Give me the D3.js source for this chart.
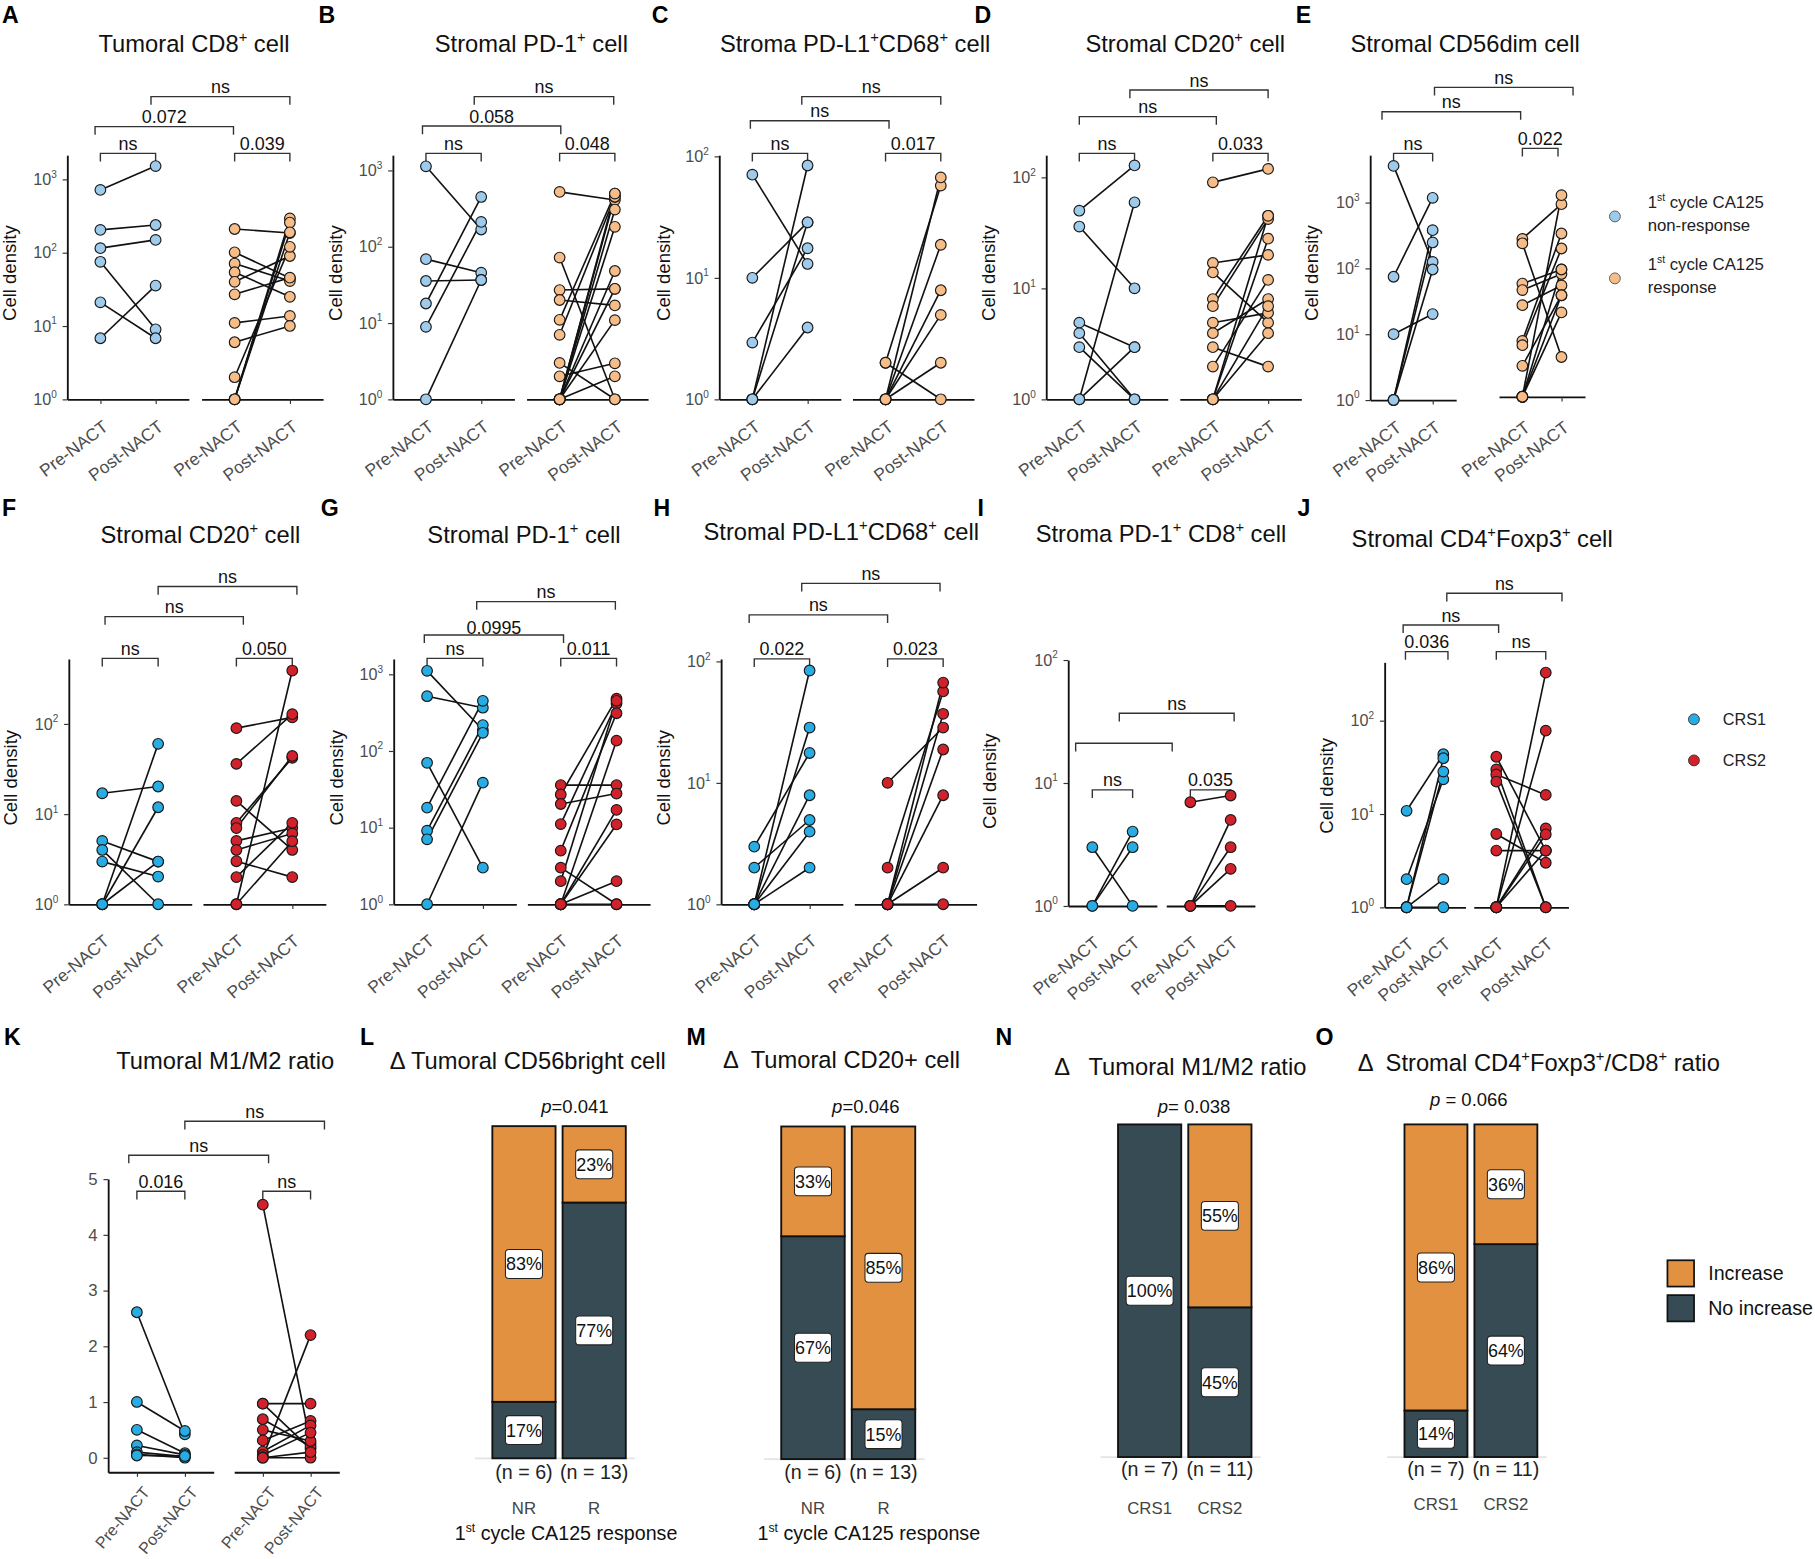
<!DOCTYPE html>
<html>
<head>
<meta charset="utf-8">
<title>Immune cells before and after NACT</title>
<script src="https://cdn.jsdelivr.net/npm/d3@7"></script>
<style>
  body { margin: 0; background: #fff; }
  svg { display: block; }
  text { font-family: "Liberation Sans", Arial, sans-serif; white-space: pre; }
</style>
</head>
<body>
<svg id="fig"></svg>
<script>
// ---------------- data ----------------
const timepoints = ["Pre-NACT", "Post-NACT"];
const ca125Groups = ["non-response", "response"];
const crsGroups = ["CRS1", "CRS2"];
const responseShort = ["NR", "R"];

// paired cell densities [pre, post] per patient
const tumCd8NR = [[716, 1514], [204, 238], [115, 149], [75, 9], [21, 6.8], [6.8, 35.5]];
const tumCd8R = [[210, 185], [101, 45], [71, 41], [54, 25], [40, 90], [27, 45.6], [11, 13.7], [6, 10], [2, 120], [1, 293], [1, 257], [1, 189]];
const strPd1NR = [[1130, 168], [68.6, 45.6], [35.5, 36.6], [18, 448], [8.9, 211], [1, 36.6]];
const strPd1R = [[522, 408], [72, 1], [27, 28], [20, 17], [11, 496], [7, 451], [3, 1], [2, 2.96], [1, 306], [1, 182], [1, 48], [1, 10.9], [1, 2], [1, 451], [1, 496], [1, 28]];
const strPdl1NR = [[70.6, 13], [10, 28.6], [2.93, 17.5], [1, 84], [1, 28.6], [1, 3.9]];
const strPdl1R = [[2, 57.4], [2, 1], [1, 67], [1, 18.7], [1, 7.9], [1, 4.95], [1, 2]];
const strCd20NR = [[50, 128], [36, 10], [4.9, 2.95], [3.94, 1], [2.95, 1], [1, 59.5], [1, 2.95]];
const strCd20R = [[90, 119], [16.9, 20], [13.9, 4.9], [8, 45], [6.9, 42], [4.9, 6], [3.94, 8], [2.95, 1.97], [1.97, 11.9], [1, 45], [1, 28], [1, 6.9], [1, 3.94]];
const strCd56NR = [[3597, 125], [74.5, 1177], [10, 20.2], [1, 380], [1, 247], [1, 96]];
const strCd56R = [[280, 943], [240, 4.5], [58.6, 96], [46.7, 82], [27.6, 55], [7.9, 338], [6.8, 200], [3.3, 39], [1.12, 1292], [1.12, 21.4], [1.12, 39], [1.12, 96]];

const crsCd20C1 = [[17, 20.2], [5.04, 2.97], [4, 1], [2.97, 2.03], [1, 60], [1, 11.9], [1, 2.97]];
const crsCd20C2 = [[89.6, 118], [36, 128], [14, 4], [8, 42], [7, 44], [5.04, 7], [4, 6.1], [3, 2], [2, 8], [1, 390], [1, 5]];
const crsPd1C1 = [[1107, 187], [517, 366], [70, 3], [18.2, 450], [9.1, 217], [7.03, 172], [1, 38.5]];
const crsPd1C2 = [[35.8, 35.8], [27, 480], [20.3, 27.8], [11.1, 415], [5, 310], [3, 1], [2, 450], [1, 136], [1, 17], [1, 11], [1, 2], [1, 1]];
const crsPdl1C1 = [[2.98, 17.6], [2, 4.94], [1, 84], [1, 28.5], [1, 7.9], [1, 3.96], [1, 2]];
const crsPdl1C2 = [[10, 28.5], [2, 56.5], [1, 66.8], [1, 37], [1, 18.8], [1, 7.9], [1, 2], [1, 1]];
const crsPd1Cd8C1 = [[3, 1], [1, 4.02], [1, 3]];
const crsPd1Cd8C2 = [[6.96, 7.9], [1, 5], [1, 3], [1, 2], [1, 1]];
const crsFoxp3C1 = [[10.8, 43.6], [2, 23.5], [1, 39.5], [1, 28.4], [1, 2], [1, 1]];
const crsFoxp3C2 = [[41, 4.05], [30, 1], [26.5, 16], [22.2, 1], [6.1, 3], [4.05, 4.05], [1, 327], [1, 78], [1, 7], [1, 6.05], [1, 4.05]];
const m1m2C1 = [[2.61, 0.42], [1.0, 0.48], [0.5, 0.08], [0.22, 0.05], [0.1, 0.02], [0.06, 0.0], [0.04, 0.03]];
const m1m2C2 = [[4.54, 0.25], [0.97, 0.97], [0.97, 0.16], [0.69, 0.2], [0.5, 0.3], [0.31, 0.66], [0.11, 0.58], [0.05, 0.45], [0.01, 2.2], [0.0, 0.0], [0.0, 0.1]];

// change categories (% of patients)
const cd56brIncrease = [83, 23], cd56brNoIncrease = [17, 77], cd56brN = [6, 13];
const cd20IncreaseL = [33, 85], cd20NoIncrease = [67, 15], cd20N = [6, 13];
const m1m2Increase = [0, 55], m1m2NoIncrease = [100, 45], m1m2N = [7, 11];
const foxp3Increase = [86, 36], foxp3NoIncrease = [14, 64], foxp3N = [7, 11];
const barPValues = ["0.041", "0.046", "0.038", "0.066"];

const ca125Colors = ["#9ecbeb", "#f7bd88"];
const crsColors = ["#27ace3", "#d1222b"];
const changeColors = { increase: "#e1913f", noIncrease: "#364b54" };

// ---------------- layout ----------------
const svg = d3.select("#fig")
  .attr("width", 1815).attr("height", 1559)
  .attr("viewBox", "0 0 1568 1347");

// x label placement [dx, dy, angle, font size]
const row1Lab = [1, 17, 37, 15], row2Lab = [0, 25, 40, 15], kLab = [4, 11, 50, 14];

const pairPanels = [
  { id: "A", title: "Tumoral CD8^+ cell", tx: 167.5, ty: 44.6, lx: 1.7, ly: 20.2, ax: 58, yBase: 345, yTop: 134, topExp: 3.33,
    facets: [{ x0: 58, x1: 163 }, { x0: 174, x1: 279 }], groups: [tumCd8NR, tumCd8R], colors: ca125Colors, cdx: 8.5, cdy: 236, lab: row1Lab,
    brackets: [["nr", 132.5, "ns"], ["r", 132.5, "0.039"], ["pre", 109.4, "0.072", -4.6, -1], ["post", 83.5, "ns", -4, 0]] },
  { id: "B", title: "Stromal PD-1^+ cell", tx: 459, ty: 44.6, lx: 275, ly: 20.2, ax: 339.3, yBase: 345, yTop: 134, topExp: 3.2,
    facets: [{ x0: 339.3, x1: 444.3 }, { x0: 454.8, x1: 559.8 }], groups: [strPd1NR, strPd1R], colors: ca125Colors, cdx: 290, cdy: 236, lab: row1Lab,
    brackets: [["nr", 132.5, "ns"], ["r", 132.5, "0.048"], ["pre", 108.9, "0.058", -3, 1], ["post", 83.5, "ns", -6, -1]] },
  { id: "C", title: "Stroma PD-L1^+CD68^+ cell", tx: 738.7, ty: 44.6, lx: 563, ly: 20.2, ax: 621.3, yBase: 345, yTop: 134, topExp: 2.01,
    facets: [{ x0: 621.3, x1: 726.3 }, { x0: 736.4, x1: 841.4 }], groups: [strPdl1NR, strPdl1R], colors: ca125Colors, cdx: 573, cdy: 236, lab: row1Lab,
    brackets: [["nr", 132.5, "ns"], ["r", 132.5, "0.017"], ["pre", 104.3, "ns", -1.7, 3], ["post", 83.5, "ns", -5, 0]] },
  { id: "D", title: "Stromal CD20^+ cell", tx: 1024, ty: 44.6, lx: 842, ly: 20.2, ax: 903.8, yBase: 345, yTop: 134, topExp: 2.2,
    facets: [{ x0: 903.8, x1: 1008.8 }, { x0: 1019.2, x1: 1124.2 }], groups: [strCd20NR, strCd20R], colors: ca125Colors, cdx: 854, cdy: 236, lab: row1Lab,
    brackets: [["nr", 132.5, "ns"], ["r", 132.5, "0.033"], ["pre", 100.8, "ns", 0, 3], ["post", 77.8, "ns", -4, 0]] },
  { id: "E", title: "Stromal CD56dim cell", tx: 1265.8, ty: 44.6, lx: 1119.5, ly: 20.2, ax: 1183.7, yBase: 345.6, yTop: 134, topExp: 3.72,
    facets: [{ x0: 1183.7, x1: 1258 }, { x0: 1295, x1: 1369.3, base: 1.12 }], groups: [strCd56NR, strCd56R], colors: ca125Colors, cdx: 1133, cdy: 236, lab: row1Lab,
    brackets: [["nr", 132.5, "ns"], ["r", 128.2, "0.022", 0, -3], ["pre", 96.5, "ns", -10, -1.5], ["post", 75.5, "ns", 1.6, 10]] },

  { id: "F", title: "Stromal CD20^+ cell", tx: 173, ty: 469.4, lx: 1.7, ly: 446, ax: 59.3, yBase: 781.3, yTop: 569.3, topExp: 2.72,
    facets: [{ x0: 59.3, x1: 165.5 }, { x0: 175.2, x1: 281.4 }], groups: [crsCd20C1, crsCd20C2], colors: crsColors, cdx: 9.4, cdy: 672, lab: row2Lab,
    brackets: [["nr", 568.8, "ns"], ["r", 568.8, "0.050"], ["pre", 532.8, "ns", 2.4, 6], ["post", 506.8, "ns", 0, 4]] },
  { id: "G", title: "Stromal PD-1^+ cell", tx: 452.6, ty: 469, lx: 277, ly: 446, ax: 340, yBase: 781.3, yTop: 569.3, topExp: 3.2,
    facets: [{ x0: 340, x1: 446 }, { x0: 455.5, x1: 561.5 }], groups: [crsPd1C1, crsPd1C2], colors: crsColors, cdx: 291, cdy: 672, lab: row2Lab,
    brackets: [["nr", 568.8, "ns"], ["r", 568.8, "0.011"], ["pre", 548.6, "0.0995", -2.4, 2.4, -1], ["post", 519.8, "ns", -5.3, -1]] },
  { id: "H", title: "Stromal PD-L1^+CD68^+ cell", tx: 726.8, ty: 466.5, lx: 564.5, ly: 446, ax: 622.9, yBase: 781.3, yTop: 569.3, topExp: 2.02,
    facets: [{ x0: 622.9, x1: 728.1 }, { x0: 738, x1: 843.6 }], groups: [crsPdl1C1, crsPdl1C2], colors: crsColors, cdx: 573, cdy: 672, lab: row2Lab,
    brackets: [["nr", 569.3, "0.022"], ["r", 569.3, "0.023"], ["pre", 531.3, "ns", -4.4, 0], ["post", 504, "ns", -6.8, -2.7]] },
  { id: "I", title: "Stroma PD-1^+ CD8^+ cell", tx: 1003, ty: 468, lx: 844.6, ly: 446, ax: 922.8, yBase: 782.7, yTop: 570.2, topExp: 2.0,
    facets: [{ x0: 922.8, x1: 999.4 }, { x0: 1007.5, x1: 1084.1 }], groups: [crsPd1Cd8C1, crsPd1Cd8C2], colors: crsColors, cdx: 855, cdy: 675, lab: row2Lab,
    brackets: [["nr", 682.5, "ns"], ["r", 682.5, "0.035"], ["pre", 642.2, "", -14.4, -15.7], ["post", 616.3, "ns", -11.5, 3]] },
  { id: "J", title: "Stromal CD4^+Foxp3^+ cell", tx: 1280.5, ty: 472.3, lx: 1121, ly: 446, ax: 1196.2, yBase: 783.9, yTop: 572.2, topExp: 2.625,
    facets: [{ x0: 1196.2, x1: 1266 }, { x0: 1273.2, x1: 1355, pad: 0.457 }], groups: [crsFoxp3C1, crsFoxp3C2], colors: crsColors, cdx: 1146, cdy: 679, lab: row2Lab,
    brackets: [["nr", 563, "0.036", -1, 4], ["r", 563, "ns"], ["pre", 540, "ns", -3, 2], ["post", 512.6, "ns", 3, 14]] },

  { id: "K", title: "Tumoral M1/M2 ratio", tx: 194.5, ty: 924, lx: 3.4, ly: 903, ax: 93.3, yBase: 1272, yTop: 1018.7, linear: true, yDomain: [-0.26, 5.0],
    facets: [{ x0: 93.3, x1: 184.5 }, { x0: 202.2, x1: 293 }], groups: [m1m2C1, m1m2C2], colors: crsColors, lab: kLab,
    brackets: [["nr", 1029.3, "0.016"], ["r", 1029.3, "ns"], ["pre", 998.1, "ns", -7, 5], ["post", 968.8, "ns", 0, 12]] }
];

const barPanels = [
  { id: "L", title: "Δ Tumoral CD56bright cell", tx: 456, ty: 924, lx: 311, ly: 903, groups: responseShort,
    inc: cd56brIncrease, noInc: cd56brNoIncrease, n: cd56brN, x0: 425.3, x1: 540.6, yBase: 1260, yTop: 973,
    nY: 1278, gY: 1308, p: barPValues[0], pFmt: "=", px: 496.7, py: 961.8, xTitle: true, xtx: 489 },
  { id: "M", title: "Δ  Tumoral CD20+ cell", tx: 727, ty: 922.5, lx: 593, ly: 903, groups: responseShort,
    inc: cd20IncreaseL, noInc: cd20NoIncrease, n: cd20N, x0: 674.9, x1: 790.7, yBase: 1260.7, yTop: 973.3,
    nY: 1278, gY: 1308, p: barPValues[1], pFmt: "=", px: 748, py: 961.8, xTitle: true, xtx: 750.6 },
  { id: "N", title: "Δ   Tumoral M1/M2 ratio", tx: 1019.7, ty: 928.6, lx: 860, ly: 903, groups: crsGroups,
    inc: m1m2Increase, noInc: m1m2NoIncrease, n: m1m2N, x0: 965.9, x1: 1081.2, yBase: 1258.9, yTop: 971.5,
    nY: 1275, gY: 1308, p: barPValues[2], pFmt: "= ", px: 1031.6, py: 961.8 },
  { id: "O", title: "Δ  Stromal CD4^+Foxp3^+/CD8^+ ratio", tx: 1329.5, ty: 925.5, lx: 1136.6, ly: 903, groups: crsGroups,
    inc: foxp3Increase, noInc: foxp3NoIncrease, n: foxp3N, x0: 1213.4, x1: 1328.2, yBase: 1258.9, yTop: 971.5,
    nY: 1275, gY: 1305, p: barPValues[3], pFmt: " = ", px: 1269, py: 955.8 }
];

// ---------------- helpers ----------------
// writes text with ^x / ^{xy} superscripts as tspans
function addRich(sel, str, fs, supScale = 0.62, rise = 0.42) {
  const re = /\^\{([^}]*)\}|\^(.)/g;
  let last = 0, m, up = false;
  const push = (t, sup) => {
    const ts = sel.append("tspan").text(t);
    if (sup) {
      ts.attr("font-size", fs * supScale);
      if (!up) { ts.attr("dy", -fs * rise); up = true; }
    } else if (up) {
      ts.attr("dy", fs * rise); up = false;
    }
  };
  while ((m = re.exec(str)) !== null) {
    if (m.index > last) push(str.slice(last, m.index), false);
    push(m[1] !== undefined ? m[1] : m[2], true);
    last = re.lastIndex;
  }
  if (last < str.length) push(str.slice(last), false);
}

function header(p) {
  svg.append("text").attr("x", p.lx).attr("y", p.ly)
    .attr("font-size", 20).attr("font-weight", "bold").text(p.id);
  const t = svg.append("text").attr("x", p.tx).attr("y", p.ty)
    .attr("text-anchor", "middle").attr("font-size", 20.5).attr("fill", "#111");
  addRich(t, p.title, 20.5);
}

function styleAxis(ga) {
  ga.attr("font-family", "Liberation Sans, Arial, sans-serif").attr("font-size", 14);
  ga.select(".domain").attr("stroke", "#111").attr("stroke-width", 1.6);
  ga.selectAll(".tick line").attr("stroke", "#333").attr("stroke-width", 1);
}

function bracket(g, xa, xb, yb, label, ly = -3) {
  g.append("path")
    .attr("d", `M${xa},${yb + 7}V${yb}H${xb}V${yb + 7}`)
    .attr("fill", "none").attr("stroke", "#333").attr("stroke-width", 1.2);
  if (label) g.append("text").attr("x", (xa + xb) / 2).attr("y", yb + ly)
    .attr("text-anchor", "middle").attr("font-size", 15.5).attr("fill", "#111").text(label);
}

// ---------------- paired dot plots ----------------
function drawPairs(p) {
  header(p);
  const g = svg.append("g");
  const y = p.linear
    ? d3.scaleLinear().domain(p.yDomain).range([p.yBase, p.yTop])
    : d3.scaleLog().domain([1, Math.pow(10, p.topExp)]).range([p.yBase, p.yTop]);
  const ticks = p.linear ? d3.range(0, 6)
    : d3.range(0, Math.floor(p.topExp + 1e-6) + 1).map(e => Math.pow(10, e));

  const yAxis = d3.axisLeft(y).tickValues(ticks).tickSize(4).tickSizeOuter(0).tickPadding(5);
  yAxis.tickFormat(p.linear ? d3.format("d") : () => "");
  const ga = g.append("g").attr("transform", `translate(${p.ax},0)`).call(yAxis);
  styleAxis(ga);
  ga.selectAll(".tick text").attr("fill", "#4d4d4d").attr("font-size", p.linear ? 14.5 : 14);
  if (!p.linear) {
    ga.selectAll(".tick text").each(function (d) {
      addRich(d3.select(this), "10^" + Math.round(Math.log10(d)), 14, 0.62, 0.45);
    });
  }

  if (p.cdx != null) {
    svg.append("text")
      .attr("transform", `translate(${p.cdx + 5.5},${p.cdy}) rotate(-90)`)
      .attr("text-anchor", "middle").attr("font-size", 16).attr("fill", "#111")
      .text("Cell density");
  }

  const xs = p.facets.map(f => d3.scalePoint().domain(timepoints)
    .range([f.x0, f.x1]).padding(f.pad != null ? f.pad : 0.6));

  xs.forEach((x, i) => {
    const f = p.facets[i];
    const by = f.base ? y(f.base) : p.yBase;
    const gx = g.append("g").attr("transform", `translate(0,${by})`)
      .call(d3.axisBottom(x).tickSize(4).tickSizeOuter(0).tickFormat(() => ""));
    styleAxis(gx);
    timepoints.forEach(t => {
      g.append("text")
        .attr("transform", `translate(${x(t) + p.lab[0]},${p.yBase + p.lab[1]}) rotate(${-p.lab[2]})`)
        .attr("text-anchor", "end").attr("dominant-baseline", "hanging")
        .attr("font-size", p.lab[3]).attr("fill", "#4d4d4d").text(t);
    });
  });

  const pos = {
    nr: [xs[0]("Pre-NACT"), xs[0]("Post-NACT")],
    r: [xs[1]("Pre-NACT"), xs[1]("Post-NACT")],
    pre: [xs[0]("Pre-NACT"), xs[1]("Pre-NACT")],
    post: [xs[0]("Post-NACT"), xs[1]("Post-NACT")]
  };
  p.brackets.forEach(([kind, yb, label, da = 0, db = 0, ly = -3]) => {
    const [a, b] = pos[kind];
    bracket(g, a + da, b + db, yb, label, ly);
  });

  p.groups.forEach((pairs, gi) => {
    const x = xs[gi];
    g.append("g").selectAll("line").data(pairs).join("line")
      .attr("x1", x("Pre-NACT")).attr("x2", x("Post-NACT"))
      .attr("y1", d => y(d[0])).attr("y2", d => y(d[1]))
      .attr("stroke", "#111").attr("stroke-width", 1.4);
    const pts = pairs.flatMap(d => [[timepoints[0], d[0]], [timepoints[1], d[1]]]);
    g.append("g").selectAll("circle").data(pts).join("circle")
      .attr("cx", d => x(d[0])).attr("cy", d => y(d[1])).attr("r", 4.6)
      .attr("fill", p.colors[gi]).attr("stroke", "#1a1a1a").attr("stroke-width", 1);
  });
}

// ---------------- stacked bars ----------------
function drawBars(p) {
  header(p);
  const g = svg.append("g");
  const x = d3.scaleBand().domain(p.groups).range([p.x0, p.x1]).paddingInner(0.1);
  const y = d3.scaleLinear().domain([0, 100]).range([p.yBase, p.yTop]);

  g.append("line").attr("x1", p.x0 - 15).attr("x2", p.x1 + 8)
    .attr("y1", p.yBase).attr("y2", p.yBase)
    .attr("stroke", "#e4e4e4").attr("stroke-width", 1.5);

  const rows = p.groups.map((name, i) => ({ group: name, noIncrease: p.noInc[i], increase: p.inc[i] }));
  const series = d3.stack().keys(["noIncrease", "increase"])(rows);

  series.forEach(s => {
    g.append("g").selectAll("rect").data(s.filter(d => d[1] > d[0])).join("rect")
      .attr("x", d => x(d.data.group)).attr("width", x.bandwidth())
      .attr("y", d => y(d[1])).attr("height", d => y(d[0]) - y(d[1]))
      .attr("fill", changeColors[s.key]).attr("stroke", "#111").attr("stroke-width", 1.6);
  });

  series.forEach(s => s.forEach(d => {
    if (d[1] - d[0] <= 0) return;
    const cx = x(d.data.group) + x.bandwidth() / 2;
    const cy = y((d[0] + d[1]) / 2);
    const lg = g.append("g");
    const box = lg.append("rect").attr("fill", "#fff").attr("stroke", "#222")
      .attr("stroke-width", 0.9).attr("rx", 3);
    const t = lg.append("text").attr("x", cx).attr("y", cy).attr("dy", "0.36em")
      .attr("text-anchor", "middle").attr("font-size", 15.5).attr("fill", "#111")
      .text(`${d[1] - d[0]}%`);
    const w = t.node().getComputedTextLength() + 1;
    box.attr("x", cx - w / 2).attr("y", cy - 12.5).attr("width", w).attr("height", 25);
  }));

  p.groups.forEach((name, i) => {
    const cx = x(name) + x.bandwidth() / 2;
    g.append("text").attr("x", cx).attr("y", p.nY).attr("text-anchor", "middle")
      .attr("font-size", 17).attr("fill", "#222").text(`(n = ${p.n[i]})`);
    g.append("text").attr("x", cx).attr("y", p.gY).attr("text-anchor", "middle")
      .attr("font-size", 14.5).attr("fill", "#444").text(name);
  });

  const pt = g.append("text").attr("x", p.px).attr("y", p.py).attr("text-anchor", "middle")
    .attr("font-size", 16).attr("fill", "#111");
  pt.append("tspan").attr("font-style", "italic").text("p");
  pt.append("tspan").text(p.pFmt + p.p);

  if (p.xTitle) {
    const xt = g.append("text").attr("x", p.xtx).attr("y", 1331).attr("text-anchor", "middle")
      .attr("font-family", "Lato, 'Open Sans', sans-serif").attr("font-size", 17).attr("fill", "#111");
    addRich(xt, "1^{st} cycle CA125 response", 17, 0.62, 0.42);
  }
}

pairPanels.forEach(drawPairs);
barPanels.forEach(drawBars);

// ---------------- legends ----------------
const leg1 = svg.append("g");
[[187, ca125Groups[0]], [240.5, ca125Groups[1]]].forEach(([cy, label], i) => {
  leg1.append("circle").attr("cx", 1395.2).attr("cy", cy).attr("r", 4.7)
    .attr("fill", ca125Colors[i]).attr("stroke", "#555").attr("stroke-width", 0.8);
  const t1 = leg1.append("text").attr("x", 1423.5).attr("y", cy - 7)
    .attr("font-family", "Lato, 'Open Sans', sans-serif").attr("font-size", 14.5).attr("fill", "#222");
  addRich(t1, "1^{st} cycle CA125", 14.5, 0.62, 0.42);
  leg1.append("text").attr("x", 1423.5).attr("y", cy + 12.5)
    .attr("font-family", "Lato, 'Open Sans', sans-serif").attr("font-size", 14.5).attr("fill", "#222")
    .text(label);
});

const leg2 = svg.append("g");
crsGroups.forEach((name, i) => {
  const cy = 621.5 + i * 35.5;
  leg2.append("circle").attr("cx", 1463.5).attr("cy", cy).attr("r", 4.7)
    .attr("fill", crsColors[i]).attr("stroke", "#333").attr("stroke-width", 0.8);
  leg2.append("text").attr("x", 1488.4).attr("y", cy + 5)
    .attr("font-family", "Lato, 'Open Sans', sans-serif").attr("font-size", 14).attr("fill", "#222")
    .text(name);
});

const leg3 = svg.append("g");
[["increase", "Increase"], ["noIncrease", "No increase"]].forEach(([key, label], i) => {
  const y0 = 1088.9 + i * 30.1;
  leg3.append("rect").attr("x", 1440.6).attr("y", y0).attr("width", 23).attr("height", 22.7)
    .attr("fill", changeColors[key]).attr("stroke", "#111").attr("stroke-width", 1.5);
  leg3.append("text").attr("x", 1475.8).attr("y", y0 + 17.1)
    .attr("font-size", 17).attr("fill", "#111").text(label);
});
</script>
</body>
</html>
